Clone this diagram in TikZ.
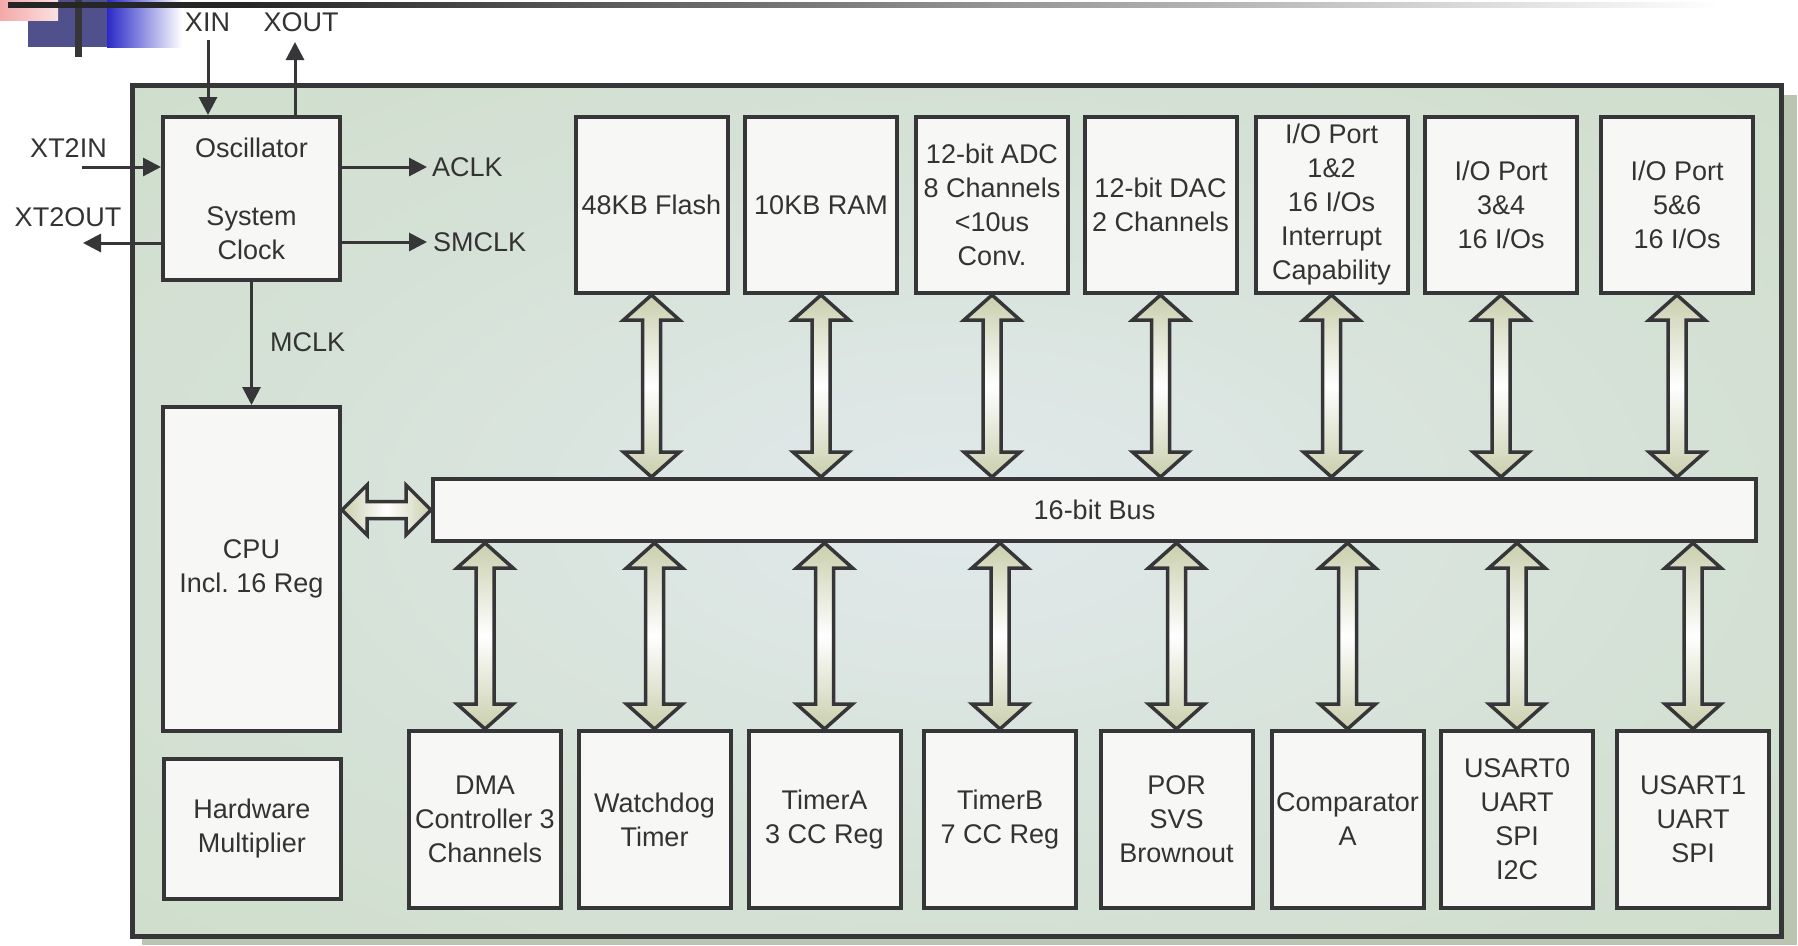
\documentclass[tikz,border=0pt]{standalone}
\usepackage{xcolor}
\usepackage{tikz}
\usepackage{fontspec}
\setmainfont{Liberation Sans}
\usetikzlibrary{arrows.meta, calc}
\definecolor{boardgreen}{HTML}{C9DBC1}
\definecolor{boardmid}{HTML}{D5E1D6}
\definecolor{boardlight}{HTML}{E1E9EB}
\definecolor{boardshadow}{HTML}{B9C5B1}
\definecolor{blockfill}{HTML}{F7F7F5}
\definecolor{linedark}{HTML}{363639}
\definecolor{textdark}{HTML}{333333}
\definecolor{linkolive}{HTML}{C9CFAD}
\definecolor{bannerblue}{HTML}{2A2AC8}
\definecolor{bannerslate}{HTML}{50508C}
\definecolor{bannerpink}{HTML}{F4A8A8}
\pgfdeclareradialshading{boardglow}{\pgfpoint{0bp}{0bp}}{color(0bp)=(boardlight); color(22bp)=(boardmid); color(50bp)=(boardgreen)}
\tikzstyle{board} = [draw=linedark, line width=5pt, shade, shading=boardglow]
\tikzstyle{block} = [rectangle, draw=linedark, line width=4pt, fill=blockfill, text=textdark, align=center, inner sep=0pt, font=\fontsize{27}{34}\selectfont]
\tikzstyle{sig} = [text=textdark, inner sep=0pt, font=\fontsize{27}{34}\selectfont]
\tikzstyle{arrow} = [line width=3pt, draw=linedark, -{Triangle[length=18pt,width=18pt]}]
\tikzstyle{buslink} = [draw=linedark, line width=3.5pt, line join=miter]
% fat double arrows to and from the bus
\newcommand{\vlink}[2]{\path[buslink, top color=linkolive, bottom color=linkolive, middle color=white]
    let \p1=(#1), \p2=(#2) in
    (\p1) -- (\x1+28pt,\y1-25pt) -- (\x1+9pt,\y1-25pt) -- (\x1+9pt,\y2+25pt) -- (\x1+28pt,\y2+25pt) -- (\x1,\y2)
    -- (\x1-28pt,\y2+25pt) -- (\x1-9pt,\y2+25pt) -- (\x1-9pt,\y1-25pt) -- (\x1-28pt,\y1-25pt) -- cycle;}
\newcommand{\hlink}[2]{\path[buslink, left color=linkolive, right color=linkolive, middle color=white]
    let \p1=(#1), \p2=(#2) in
    (\p1) -- (\x1+25pt,\y1+25pt) -- (\x1+25pt,\y1+8.5pt) -- (\x2-25pt,\y1+8.5pt) -- (\x2-25pt,\y1+25pt) -- (\x2,\y1)
    -- (\x2-25pt,\y1-25pt) -- (\x2-25pt,\y1-8.5pt) -- (\x1+25pt,\y1-8.5pt) -- (\x1+25pt,\y1-25pt) -- cycle;}

\begin{document}
\begin{tikzpicture}[x=1pt, y=-1pt]
    % MSP430 block diagram
    \useasboundingbox (0,0) rectangle (1798,945);
    \fill[bannerslate] (28,0) rectangle (107,47);
    \shade[left color=bannerblue, right color=white] (107,0) rectangle (182,47);
    \shade[left color=bannerpink, right color=bannerpink!35!white] (0,0) rectangle (58,20);
    \fill[linedark] (75,0) rectangle (82,57);
    \fill[black!85] (8,2) rectangle (250,7.5);
    \shade[left color=black!85, right color=white] (250,2) rectangle (1720,7.5);

    \fill[boardshadow] (142,95) rectangle (1797,945);
    \path[board] (132,85) rectangle (1781,936);

    \node[block, minimum width=177, minimum height=163] (osc) at (251.5,198.5) {Oscillator\\[34pt]System\\Clock};
    \node[block, minimum width=177, minimum height=324] (cpu) at (251.5,569) {CPU\\Incl.\ 16 Reg};
    \node[block, minimum width=177, minimum height=140] (hwmul) at (252,829) {Hardware\\Multiplier};
    \node[block, minimum width=1323, minimum height=62] (bus) at (1094.5,510) {16-bit Bus};

    \node[block, minimum width=152, minimum height=176] (flash) at (651.5,205) {48KB Flash};
    \node[block, minimum width=152, minimum height=176] (ram) at (821,205) {10KB RAM};
    \node[block, minimum width=152, minimum height=176] (adc) at (992,205) {12-bit ADC\\8 Channels\\<10us\\Conv.};
    \node[block, minimum width=152, minimum height=176] (dac) at (1160.5,205) {12-bit DAC\\2 Channels};
    \node[block, minimum width=152, minimum height=176] (io12) at (1331.5,205) {I/O Port\\1\&2\\16 I/Os\\Interrupt\\Capability};
    \node[block, minimum width=152, minimum height=176] (io34) at (1501,205) {I/O Port\\3\&4\\16 I/Os};
    \node[block, minimum width=152, minimum height=176] (io56) at (1677,205) {I/O Port\\5\&6\\16 I/Os};

    \node[block, minimum width=152, minimum height=177] (dma) at (485,819.5) {DMA\\Controller 3\\Channels};
    \node[block, minimum width=152, minimum height=177] (wdt) at (654.5,819.5) {Watchdog\\Timer};
    \node[block, minimum width=152, minimum height=177] (tima) at (824.5,819.5) {TimerA\\3 CC Reg};
    \node[block, minimum width=152, minimum height=177] (timb) at (1000,819.5) {TimerB\\7 CC Reg};
    \node[block, minimum width=152, minimum height=177] (por) at (1176.5,819.5) {POR\\SVS\\Brownout};
    \node[block, minimum width=152, minimum height=177] (comp) at (1347.5,819.5) {Comparator\\A};
    \node[block, minimum width=152, minimum height=177] (usart0) at (1517,819.5) {USART0\\UART\\SPI\\I2C};
    \node[block, minimum width=152, minimum height=177] (usart1) at (1693,819.5) {USART1\\UART\\SPI};

    \node[sig] (xin) at (207.5,22.5) {XIN};
    \node[sig] (xout) at (301,22.5) {XOUT};
    \node[sig] (xt2in) at (68.5,148) {XT2IN};
    \node[sig] (xt2out) at (68,217) {XT2OUT};
    \node[sig, anchor=west] (aclk) at (432,167) {ACLK};
    \node[sig, anchor=west] (smclk) at (433,242) {SMCLK};
    \node[sig, anchor=west] (mclk) at (270,342) {MCLK};

    \coordinate (xin-end) at (208,40);
    \coordinate (xout-end) at (295,42);
    \coordinate (xt2in-end) at (82,167);
    \coordinate (xt2out-end) at (83,243);
    \coordinate (aclk-end) at (427,167);
    \coordinate (smclk-end) at (427,242);

    \draw[arrow] (xin-end) -- (xin-end |- osc.north);
    \draw[arrow] (xout-end |- osc.north) -- (xout-end);
    \draw[arrow] (xt2in-end) -- (xt2in-end -| osc.west);
    \draw[arrow] (xt2out-end -| osc.west) -- (xt2out-end);
    \draw[arrow] (aclk-end -| osc.east) -- (aclk-end);
    \draw[arrow] (smclk-end -| osc.east) -- (smclk-end);
    \draw[arrow] (osc) -- (cpu);

    \hlink{cpu.east |- bus.west}{bus.west}
    \foreach \blk in {flash, ram, adc, dac, io12, io34, io56} {
        \vlink{\blk.south}{\blk.south |- bus.north}
    }
    \foreach \blk in {dma, wdt, tima, timb, por, comp, usart0, usart1} {
        \vlink{\blk.north |- bus.south}{\blk.north}
    }
\end{tikzpicture}
\end{document}
